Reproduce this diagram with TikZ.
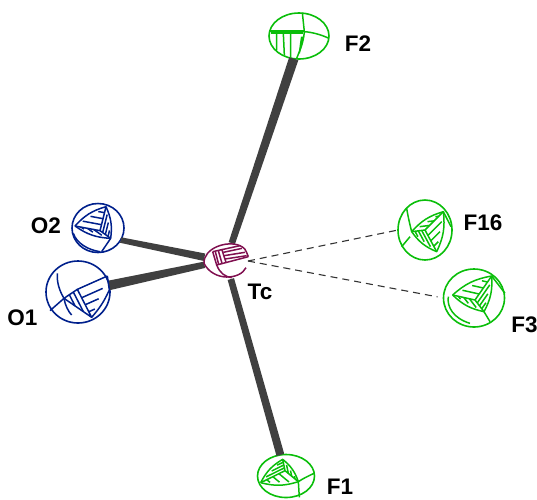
\documentclass[tikz,border=0pt]{standalone}
\usepackage{fontspec}
\setmainfont{Liberation Sans}
\usetikzlibrary{calc,shapes.geometric}
\definecolor{fgreen}{RGB}{10,190,10}
\definecolor{onavy}{RGB}{0,32,140}
\definecolor{tcmar}{RGB}{128,16,80}
\definecolor{bondc}{RGB}{64,64,64}
\tikzset{
  atom/.style={ellipse,inner sep=0pt,outer sep=0pt,line width=1.6pt},
  lab/.style={font=\fontsize{22.5}{22.5}\selectfont\bfseries,text=black,inner sep=0pt},
  longc/.style={draw=black!80,line width=1.1pt,dash pattern=on 7pt off 5pt},
  zoomed/.style={x=.33333pt,y=-.33333pt,line width=1.5pt,line join=round}
}
% tapered bond between two points: half widths #3 at #1 and #4 at #2
\newcommand{\taper}[4]{%
  \fill[bondc] ($(#1)!#3!90:(#2)$) -- ($(#1)!#3!-90:(#2)$) -- ($(#2)!#4!90:(#1)$) -- ($(#2)!#4!-90:(#1)$) -- cycle;
}
\newcommand{\hatchsec}[4]{%
  \foreach \hh in {#4}{\draw ($(#1)!\hh!(#2)$) -- ($(#3)!\hh!(#2)$);}%
}
\newcommand{\octant}[4]{% P A B C
  \draw (#1) -- (#2) (#1) -- (#3) (#1) -- (#4);
  \draw (#2) to[bend left=16] (#3) to[bend left=16] (#4) to[bend left=16] (#2);
  \hatchsec{#1}{#3}{#2}{.25,.5,.75}
  \hatchsec{#1}{#4}{#3}{.25,.5,.75}
  \hatchsec{#1}{#2}{#4}{.25,.5,.75}
}
\begin{document}
\begin{tikzpicture}[x=1pt,y=-1pt]
\useasboundingbox (0,0) rectangle (537,499);
% atoms
\node[atom,minimum width=44pt,minimum height=37pt] (tc) at (226,261) {};
\node[atom,draw=fgreen,minimum width=60pt,minimum height=46pt] (f2) at (299,36) {};
\node[atom,draw=fgreen,minimum width=57pt,minimum height=43pt] (f1) at (286,476) {};
\node[atom,draw=onavy,minimum width=52pt,minimum height=49pt] (o2) at (98,228) {};
\node[atom,draw=onavy,minimum width=64pt,minimum height=62pt] (o1) at (78,292) {};
\node[atom,draw=fgreen,minimum width=54pt,minimum height=60pt] (f16) at (425,230) {};
\node[atom,draw=fgreen,minimum width=61pt,minimum height=58pt] (f3) at (474,298) {};
% labels
\node[lab] (lf2) at (358,43.5) {F2};
\node[lab] (lo2) at (46,226) {O2};
\node[lab] (lo1) at (22.5,318) {O1};
\node[lab] (ltc) at (260,292) {Tc};
\node[lab] (lf16) at (483,223) {F16};
\node[lab] (lf3) at (524.5,325) {F3};
\node[lab] (lf1) at (340,487) {F1};
% bonds
\taper{f2.-103}{tc.72}{4.8pt}{3.3pt}
\taper{f1.105}{tc.-75}{4pt}{3.3pt}
\taper{o2.-28}{tc.170}{2.8pt}{3.8pt}
\taper{o1.12}{tc.190}{4.8pt}{3.2pt}
\draw[longc] (tc.east) -- (f16.west);
\draw[longc,shorten >=6pt] (tc.east) -- (f3.west);
% Tc
\begin{scope}[shift={(190,225)},zoomed,draw=tcmar]
 \draw (168,128) .. controls (150,165) and (70,170) .. (42,115) .. controls (40,70) and (110,45) .. (150,62) .. controls (165,70) .. (175,95);
 \draw (68,80) -- (150,62) (68,80) -- (80,120) -- (175,95);
 \draw (95,72) -- (108,112);
 \draw (76,80) -- (86,118) (85,77) -- (96,115);
 \draw (100,82) -- (156,70) (102,92) -- (165,82) (105,102) -- (170,92);
 \draw (80,120) .. controls (90,145) and (105,155) .. (125,158);
\end{scope}
% F2
\begin{scope}[shift={(250,0)},zoomed,draw=fgreen]
 \draw (157,38) -- (163,95) .. controls (160,130) and (150,150) .. (140,175);
 \draw (58,91) -- (163,91) (59,95) -- (163,95) (62,99) -- (160,99);
 \draw (163,95) .. controls (190,97) and (215,105) .. (237,115);
 \draw (80,100) -- (80,150) (100,100) -- (103,165) (122,100) -- (122,172);
 \draw (155,110) -- (148,160) (160,110) -- (150,150);
\end{scope}
% F1
\begin{scope}[shift={(240,440)},zoomed,draw=fgreen]
 \octant{135,92}{62,128}{128,58}{175,125}
 \draw (175,125) -- (178,172) (175,125) .. controls (190,115) and (205,108) .. (222,100);
\end{scope}
% O2
\begin{scope}[shift={(0,190)},zoomed,draw=onavy]
 \octant{300,122}{225,108}{318,50}{332,145}
 \draw (332,145) -- (305,185);
 \draw (220,130) .. controls (230,160) and (265,180) .. (300,185);
\end{scope}
% O1
\begin{scope}[shift={(0,190)},zoomed,draw=onavy]
 \coordinate (op) at (232,298);
 \coordinate (oa) at (192,325);
 \coordinate (ob) at (322,258);
 \coordinate (oc) at (275,382);
 \draw (150,362) -- (oa) -- (op) -- (ob) (op) -- (oc) (oa) -- (oc) to[bend right=8] (328,300) -- (ob);
 \hatchsec{op}{oa}{oc}{.3,.6}
 \hatchsec{op}{oc}{ob}{.3,.55,.8}
 \draw (172,250) .. controls (170,280) and (180,305) .. (192,325);
 \draw (oa) .. controls (195,345) and (205,365) .. (215,375);
\end{scope}
% F16
\begin{scope}[shift={(390,190)},zoomed,draw=fgreen]
 \octant{105,120}{65,125}{160,65}{140,185}
 \draw (50,55) .. controls (55,85) and (60,105) .. (65,125);
 \draw (60,140) -- (35,170);
 \draw (160,65) -- (183,110);
\end{scope}
% F3
\begin{scope}[shift={(390,190)},zoomed,draw=fgreen]
 \octant{255,330}{188,315}{305,258}{282,365}
 \draw (305,258) -- (345,310);
 \draw (175,320) .. controls (170,350) and (190,385) .. (240,400);
 \draw (282,365) -- (300,395);
\end{scope}
\end{tikzpicture}
\end{document}
